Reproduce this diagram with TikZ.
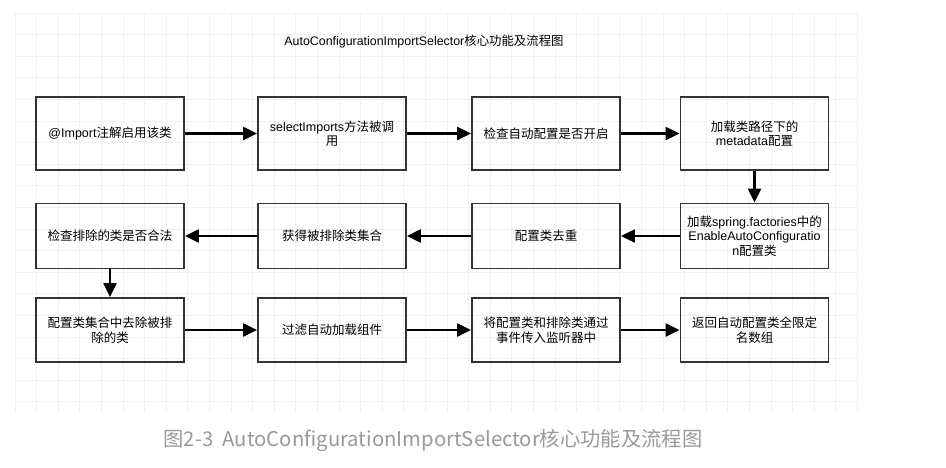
\documentclass[tikz,border=0pt]{standalone}
\usepackage{fontspec}
\setmainfont{Liberation Sans}
\newfontfamily\cjk{Noto Sans CJK SC}
\newcommand{\zh}[1]{{\cjk #1}}
\usetikzlibrary{arrows.meta}
\definecolor{boxline}{HTML}{333333}
\definecolor{gridline}{HTML}{F1F1F4}
\definecolor{captiongray}{HTML}{9A9A9A}

\begin{document}
\begin{tikzpicture}[x=1pt,y=-1pt,>={Triangle[length=14pt,width=13pt]},
stage/.style={draw=boxline,line width=1.8pt,minimum width=148pt,align=center,font=\fontsize{12.5}{14.5}\selectfont,inner sep=2pt},
flow/.style={->,line width=2.2pt,draw=black}]
\useasboundingbox (0,0) rectangle (946,467);
\fill[white] (0,0) rectangle (946,467);
% background grid
\foreach \gx in {0,...,39} \draw[gridline,line width=0.8pt] ({15+21.6*\gx},13) -- ({15+21.6*\gx},412);
\foreach \gy in {0,...,18} \draw[gridline,line width=0.8pt] (15,{13+21.6*\gy}) -- (858,{13+21.6*\gy});
\node[font=\fontsize{12.4}{14}\selectfont] (title) at (424,42) {AutoConfigurationImportSelector\zh{核心功能及流程图}};
% first row
\node[stage,minimum height=73pt] (imp) at (110,133.5) {@Import\zh{注解启用该类}};
\node[stage,minimum height=73pt] (sel) at (332,133.5) {selectImports\zh{方法被调}\\\zh{用}};
\node[stage,minimum height=73pt] (chk) at (546,133.5) {\zh{检查自动配置是否开启}};
\node[stage,minimum height=73pt] (meta) at (754.5,133.5) {\zh{加载类路径下的}\\metadata\zh{配置}};
% second row
\node[stage,minimum height=65pt] (load) at (754.5,236) {\zh{加载}spring.factories\zh{中的}\\EnableAutoConfiguratio\\n\zh{配置类}};
\node[stage,minimum height=65pt] (dedup) at (546,236) {\zh{配置类去重}};
\node[stage,minimum height=65pt] (excl) at (332,236) {\zh{获得被排除类集合}};
\node[stage,minimum height=65pt] (valid) at (110,236) {\zh{检查排除的类是否合法}};
% third row
\node[stage,minimum height=64pt] (rm) at (110,330) {\zh{配置类集合中去除被排}\\\zh{除的类}};
\node[stage,minimum height=64pt] (filt) at (332,330) {\zh{过滤自动加载组件}};
\node[stage,minimum height=64pt] (evt) at (546,330) {\zh{将配置类和排除类通过}\\\zh{事件传入监听器中}};
\node[stage,minimum height=64pt] (ret) at (754.5,330) {\zh{返回自动配置类全限定}\\\zh{名数组}};
\draw[flow] (imp.east) -- (sel.west);
\draw[flow] (sel.east) -- (chk.west);
\draw[flow] (chk.east) -- (meta.west);
\draw[flow] (meta.south) -- (load.north);
\draw[flow] (load.west) -- (dedup.east);
\draw[flow] (dedup.west) -- (excl.east);
\draw[flow] (excl.west) -- (valid.east);
\draw[flow] (valid.south) -- (rm.north);
\draw[flow] (rm.east) -- (filt.west);
\draw[flow] (filt.east) -- (evt.west);
\draw[flow] (evt.east) -- (ret.west);
\node[font=\cjk\fontsize{20.3}{24}\selectfont,text=captiongray] (cap) at (433,440) {图2-3\ \ AutoConfigurationImportSelector核心功能及流程图};
\end{tikzpicture}
\end{document}
